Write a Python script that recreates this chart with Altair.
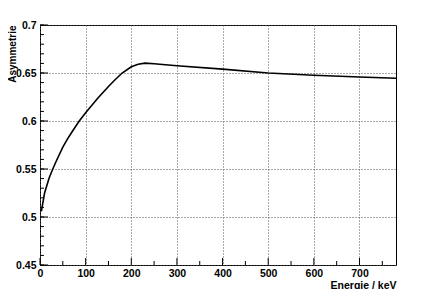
import altair as alt
import pandas as pd

energy = [3, 10, 20, 28, 35, 50, 60, 70, 86, 100, 126, 150, 165, 180, 200, 215, 230, 250, 300, 400, 500, 600, 700, 780]
asym = [0.5058, 0.525, 0.5407, 0.550, 0.5575, 0.5728, 0.5812, 0.5885, 0.600, 0.6086, 0.6235, 0.6360, 0.6432, 0.650,
        0.6565, 0.6592, 0.6603, 0.6597, 0.6576, 0.6540, 0.6500, 0.6476, 0.6459, 0.6445]

x_major = [0, 100, 200, 300, 400, 500, 600, 700]
x_minor = [50, 150, 250, 350, 450, 550, 650, 750]
y_major = [0.45, 0.5, 0.55, 0.6, 0.65, 0.7]
y_minor = [round(0.45 + 0.01 * i, 2) for i in range(26)]

W, H = 356, 240
FONT = "Liberation Sans"

df = pd.DataFrame({"E": energy, "A": asym})

xs = alt.Scale(domain=[0, 780], nice=False, zero=False)
ys = alt.Scale(domain=[0.45, 0.7], nice=False, zero=False)

base = alt.Chart(df)

line = base.mark_line(color="black", strokeWidth=1.6).encode(
    x=alt.X("E:Q", scale=xs, axis=alt.Axis(
        values=x_major, ticks=False, domain=False, grid=True,
        gridDash=[1, 2], gridColor="#555", gridWidth=1, format="d",
        labelFont=FONT, labelFontWeight="bold", labelFontSize=10.5, labelPadding=3,
        labelColor="black", labelFlush=False,
        title="Energie / keV", titleFont=FONT, titleFontWeight="bold", titleFontSize=10.5,
        titleColor="black", titleAlign="right", titleAnchor="end", titleX=W, titleY=23,
        titleBaseline="alphabetic")),
    y=alt.Y("A:Q", scale=ys, axis=alt.Axis(
        values=y_major, ticks=False, domain=False, grid=True,
        gridDash=[1, 2], gridColor="#555", gridWidth=1, format=".2~f",
        labelFont=FONT, labelFontWeight="bold", labelFontSize=10.5, labelPadding=4,
        labelColor="black", labelFlush=False,
        title="Asymmetrie", titleFont=FONT, titleFontWeight="bold", titleFontSize=10,
        titleColor="black", titleAnchor="end", titleX=-24.5,
        titleBaseline="alphabetic")),
)

def xticks(vals, length):
    return alt.Chart(pd.DataFrame({"v": vals})).mark_rule(color="black", strokeWidth=1).encode(
        x=alt.X("v:Q", scale=xs), y=alt.value(H), y2=alt.value(H - length))

def yticks(vals, length):
    return alt.Chart(pd.DataFrame({"v": vals})).mark_rule(color="black", strokeWidth=1).encode(
        y=alt.Y("v:Q", scale=ys), x=alt.value(0), x2=alt.value(length))

chart = alt.layer(
    line,
    xticks(x_major, 7), xticks(x_minor, 4),
    yticks(y_major, 8), yticks(y_minor, 4),
).properties(
    width=W, height=H,
    autosize=alt.AutoSizeParams(type="none"),
    padding={"left": 32, "top": 17, "right": 31, "bottom": 24},
    background="white",
).configure_view(stroke="black", strokeWidth=1)

chart.save("out.html", embed_options={"renderer": "svg", "actions": False})
